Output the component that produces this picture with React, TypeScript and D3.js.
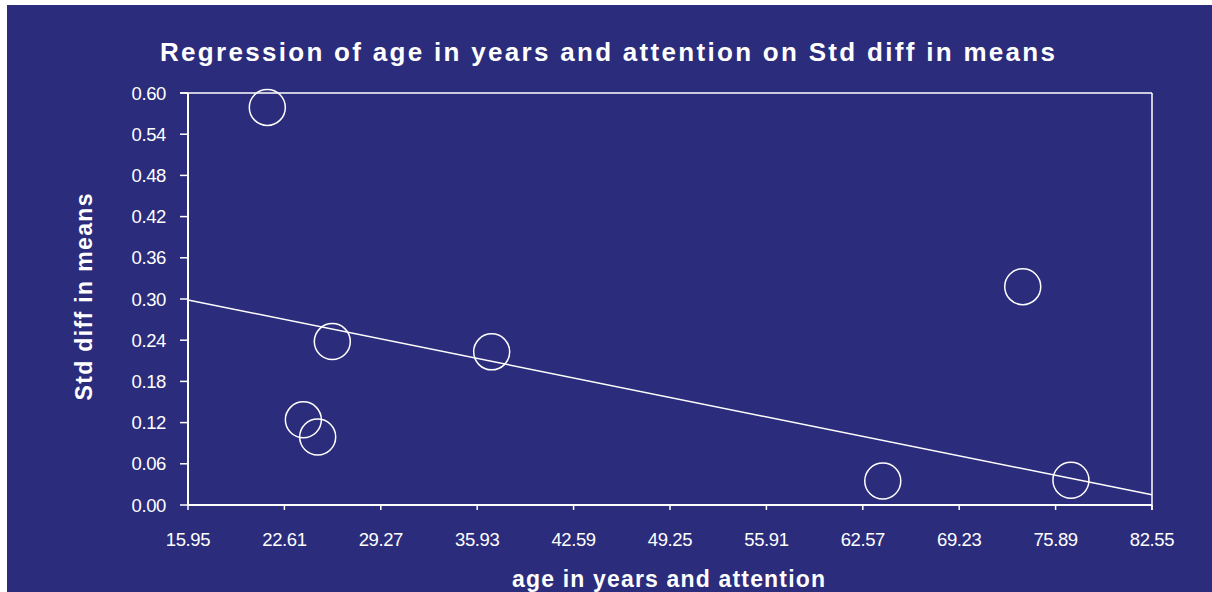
import React from "react";
import * as d3 from "d3";

const titleText = "Regression of age in years and attention on Std diff in means";
const xAxisTitle = "age in years and attention";
const yAxisTitle = "Std diff in means";

const xTicks = [15.95, 22.61, 29.27, 35.93, 42.59, 49.25, 55.91, 62.57, 69.23, 75.89, 82.55];
const yTicks = [0.0, 0.06, 0.12, 0.18, 0.24, 0.3, 0.36, 0.42, 0.48, 0.54, 0.6];

const ageValues = [21.43, 25.92, 36.93, 23.92, 24.91, 73.62, 63.95, 76.95];
const effectValues = [0.579, 0.238, 0.223, 0.124, 0.099, 0.318, 0.035, 0.036];

const regIntercept = 0.3665;
const regSlope = -0.00426;

const W = 1212;
const H = 592;
const BG = "#2b2c7c";

export default function App() {
  const left = 188, right = 1152, top = 93, bottom = 505;
  const x = d3.scaleLinear().domain([15.95, 82.55]).range([left, right]);
  const y = d3.scaleLinear().domain([0, 0.6]).range([bottom, top]);
  const pts = ageValues.map((a, i) => ({ a, e: effectValues[i] }));
  const lineGen = d3.line<number>().x((d) => x(d)).y((d) => y(regIntercept + regSlope * d));
  const lineD = lineGen([15.95, 82.55]) || "";
  const font = "Arial, 'Liberation Sans', sans-serif";

  return (
    <div style={{ position: "absolute", left: 0, top: 0, width: W, height: H }}>
      <svg width={W} height={H} style={{ display: "block" }}>
        <rect x={0} y={0} width={W} height={H} fill="#ffffff" />
        <rect x={7} y={5} width={W - 7} height={H - 5} fill={BG} />
        <text
          x={607.5}
          y={61}
          textAnchor="middle"
          fill="#ffffff"
          fontFamily={font}
          fontWeight="bold"
          fontSize={26}
          textLength={895}
          lengthAdjust="spacing"
        >
          {titleText}
        </text>
        {/* plot frame */}
        <line x1={left - 8} x2={right} y1={top} y2={top} stroke="#fff" strokeWidth={1.5} />
        <line x1={right} x2={right} y1={top} y2={bottom + 5} stroke="#fff" strokeWidth={1.5} />
        <line x1={left} x2={left} y1={top} y2={bottom + 1} stroke="#fff" strokeWidth={2} />
        <line x1={left - 1} x2={right} y1={bottom} y2={bottom} stroke="#fff" strokeWidth={2} />
        {yTicks.map((t) => (
          <g key={"y" + t}>
            <line x1={left - 8} x2={left} y1={y(t)} y2={y(t)} stroke="#fff" strokeWidth={1.5} />
            <text
              x={166}
              y={y(t) + 6.5}
              textAnchor="end"
              fill="#fff"
              fontFamily={font}
              fontSize={18.5}
              letterSpacing={-0.4}
            >
              {t.toFixed(2)}
            </text>
          </g>
        ))}
        {xTicks.map((t) => (
          <g key={"x" + t}>
            <line x1={x(t)} x2={x(t)} y1={bottom} y2={bottom + 5} stroke="#fff" strokeWidth={1.5} />
            <text
              x={x(t)}
              y={546}
              textAnchor="middle"
              fill="#fff"
              fontFamily={font}
              fontSize={18.5}
              letterSpacing={-0.4}
            >
              {t.toFixed(2)}
            </text>
          </g>
        ))}
        <path d={lineD} stroke="#fff" strokeWidth={1.5} fill="none" />
        {pts.map((p, i) => (
          <circle key={i} cx={x(p.a)} cy={y(p.e)} r={18} fill="none" stroke="#fff" strokeWidth={1.5} />
        ))}
        <text
          x={668.5}
          y={587}
          textAnchor="middle"
          fill="#fff"
          fontFamily={font}
          fontWeight="bold"
          fontSize={23}
          textLength={313}
          lengthAdjust="spacing"
        >
          {xAxisTitle}
        </text>
        <text
          transform={`translate(92,297) rotate(-90)`}
          textAnchor="middle"
          fill="#fff"
          fontFamily={font}
          fontWeight="bold"
          fontSize={23}
          textLength={207}
          lengthAdjust="spacing"
        >
          {yAxisTitle}
        </text>
      </svg>
    </div>
  );
}
